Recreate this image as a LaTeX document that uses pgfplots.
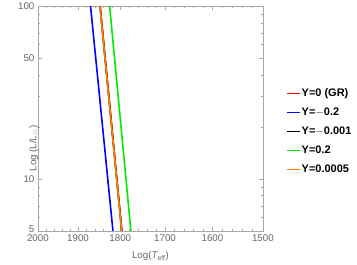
\documentclass[border=0pt]{standalone}
\usepackage{fontspec}
\setmainfont{Liberation Sans}
\usepackage{pgfplots}
\pgfplotsset{compat=1.18}
\definecolor{tickgray}{HTML}{666666}
\definecolor{framegray}{HTML}{A8A8A8}
\definecolor{myorange}{RGB}{255,128,0}
\definecolor{mygreen}{RGB}{0,235,0}
\begin{document}
\begin{tikzpicture}
\path[use as bounding box] (-38bp,-34bp) rectangle (319bp,231bp);
\begin{axis}[
 at={(0,0)}, anchor=south west,
 scale only axis, width=225bp, height=225bp,
 xmode=log, ymode=log, x dir=reverse,
 xmin=1500, xmax=2000, ymin=5, ymax=100,
 xtick={1500,1600,1700,1800,1900,2000},
 xticklabels={1500,1600,1700,1800,1900,2000},
 minor xtick={1520,1540,1560,1580,1620,1640,1660,1680,1720,1740,1760,1780,1820,1840,1860,1880,1920,1940,1960,1980},
 ytick={5,10,50,100}, yticklabels={\raisebox{3bp}{5},10,50,\raisebox{-3bp}{100}},
 minor ytick={6,7,8,9,20,30,40,60,70,80,90},
 tick align=inside, major tick length=4bp, minor tick length=2bp,
 axis line style={draw=framegray},
 every tick/.style={draw=framegray, line width=0.4pt},
 tick label style={font=\fontsize{9.8}{11}\selectfont, text=tickgray},
 xlabel={Log({\itshape T}\textsubscript{eff})},
 ylabel={Log (L/L\textsubscript{$\odot$})},
 label style={font=\fontsize{9.8}{11}\selectfont, text=tickgray},
 xlabel style={at={(axis description cs:0.5,0)}, anchor=center, yshift=-25bp},
 ylabel style={at={(axis description cs:0,0.5)}, anchor=center, xshift=-30bp, yshift=4bp},
 clip=true,
 legend cell align=left,
 legend style={draw=none, fill=none, at={(1.105,0.442)}, anchor=west,
   font=\fontsize{11}{12}\selectfont\bfseries, inner sep=0pt},
 legend image code/.code={\path[draw=none] (0bp,-9.5bp) -- (0bp,9.5bp); \fill[#1, draw=none] (0bp,-0.7bp) rectangle (13bp,0.7bp);},
]
\addplot[color=red, line width=1.6pt] coordinates {(1847.3,100) (1796.8,5)};
\addlegendentry{Y=0 (GR)}
\addplot[color=blue, line width=1.6pt] coordinates {(1870,100) (1817,5)};
\addlegendentry{Y=$-$0.2}
\addplot[color=black, line width=1.6pt] coordinates {(1847.1,100) (1796.6,5)};
\addlegendentry{Y=$-$0.001}
\addplot[color=mygreen, line width=1.6pt] coordinates {(1825,100) (1776,5)};
\addlegendentry{Y=0.2}
\addplot[color=myorange, line width=1.6pt] coordinates {(1847.5,100) (1797,5)};
\addlegendentry{Y=0.0005}
\end{axis}
\end{tikzpicture}
\end{document}
